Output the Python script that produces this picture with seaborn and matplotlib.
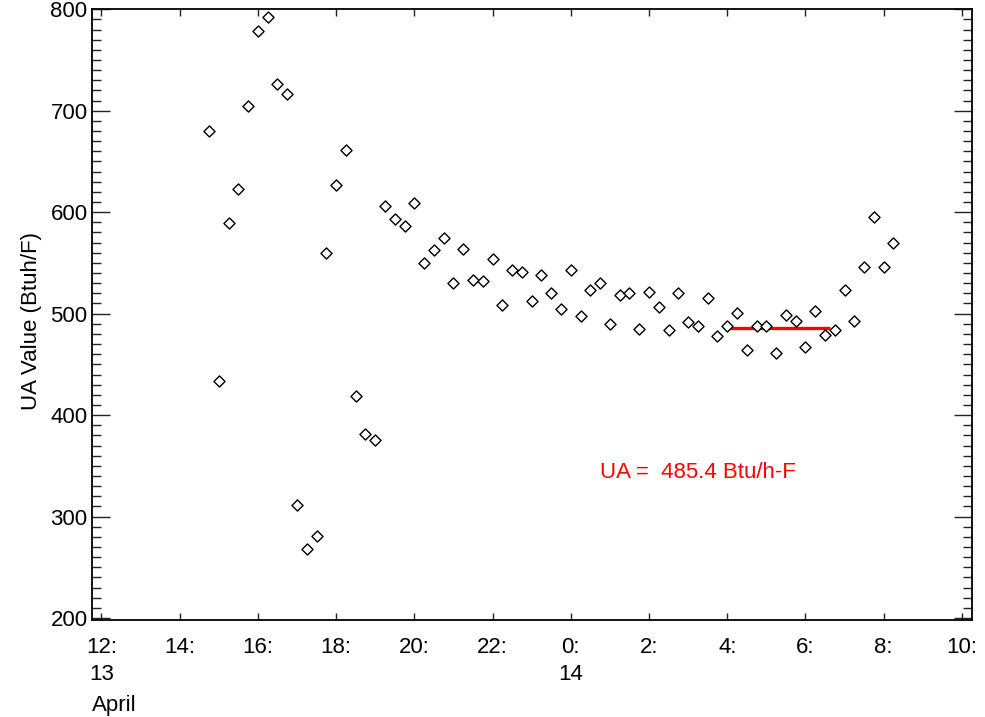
import numpy as np
import pandas as pd
import matplotlib
matplotlib.use("Agg")
import matplotlib.pyplot as plt
import matplotlib.dates as mdates
from matplotlib.ticker import MultipleLocator, FuncFormatter
import seaborn as sns

# UA readings, one every 15 minutes starting 13 April 14:45
start_time = "2000-04-13 14:45"
ua_values = [
    680, 434, 589, 623, 705, 779, 792, 726, 717, 311, 268, 281,
    560, 627, 661, 419, 381, 375, 606, 593, 586, 609, 550, 563,
    575, 530, 564, 533, 532, 554, 509, 543, 541, 512, 538, 520,
    505, 543, 498, 523, 530, 490, 518, 520, 485, 521, 507, 484,
    520, 492, 488, 515, 478, 488, 501, 464, 488, 488, 461, 499,
    493, 467, 503, 479, 484, 523, 493, 546, 595, 546, 570,
]
ua_avg = 485.4
avg_start = "2000-04-14 04:00"
avg_end = "2000-04-14 06:37"

x_min = "2000-04-13 11:45"
x_max = "2000-04-14 10:15"
y_min, y_max = 198, 800

df = pd.DataFrame({
    "time": pd.date_range(start_time, periods=len(ua_values), freq="15min"),
    "ua": ua_values,
})

sns.set_style("ticks")
plt.rcParams["font.family"] = ["Liberation Sans", "DejaVu Sans"]
plt.rcParams["text.color"] = "black"
plt.rcParams["axes.labelcolor"] = "black"

fig = plt.figure(figsize=(9.85, 7.17), dpi=100)
ax = fig.add_axes([0.0931, 0.1353, 0.8934, 0.8517])

sns.scatterplot(data=df, x="time", y="ua", marker="D", s=32,
                color="white", edgecolor="black", linewidth=1.0,
                ax=ax, zorder=3)

ax.plot(pd.to_datetime([avg_start, avg_end]), [ua_avg, ua_avg],
        color="#ff0000", lw=2.4, zorder=2, solid_capstyle="butt")
ax.text(0.5776, 0.2423, f"UA =  {ua_avg} Btu/h-F", transform=ax.transAxes,
        color="#ff0000", fontsize=16, ha="left", va="center")

ax.set_xlim(pd.Timestamp(x_min), pd.Timestamp(x_max))
ax.set_ylim(y_min, y_max)

# x ticks every 2 hours, day number under midnight / first tick
ax.xaxis.set_major_locator(mdates.HourLocator(byhour=range(0, 24, 2)))


def time_label(val, pos):
    t = mdates.num2date(val)
    lab = f"{t.hour}:"
    if t.hour == 0 or (t.day == 13 and t.hour == 12):
        lab += f"\n{t.day}"
    return lab


ax.xaxis.set_major_formatter(FuncFormatter(time_label))
ax.yaxis.set_major_locator(MultipleLocator(100))
ax.yaxis.set_minor_locator(MultipleLocator(10))

ax.tick_params(axis="both", which="both", direction="in",
               top=True, right=True, colors="#222222", labelcolor="black")
ax.tick_params(axis="y", which="major", length=13, width=1.0,
               labelsize=16, pad=3)
ax.tick_params(axis="y", which="minor", length=6.5, width=1.0)
ax.tick_params(axis="x", which="major", length=5, width=1.0,
               labelsize=16, pad=12)
for lab in ax.get_xticklabels():
    lab.set_linespacing(1.4)
    lab.set_verticalalignment("top")

for sp in ax.spines.values():
    sp.set_linewidth(1.3)
    sp.set_color("black")

ax.set_xlabel("")
ax.set_ylabel("UA Value (Btuh/F)", fontsize=16)
ax.yaxis.set_label_coords(-0.056, 0.49)

fig.text(92 / 985, 1 - 705 / 717, "April", fontsize=16,
         ha="left", va="center")

fig.savefig("out.png", dpi=100)
